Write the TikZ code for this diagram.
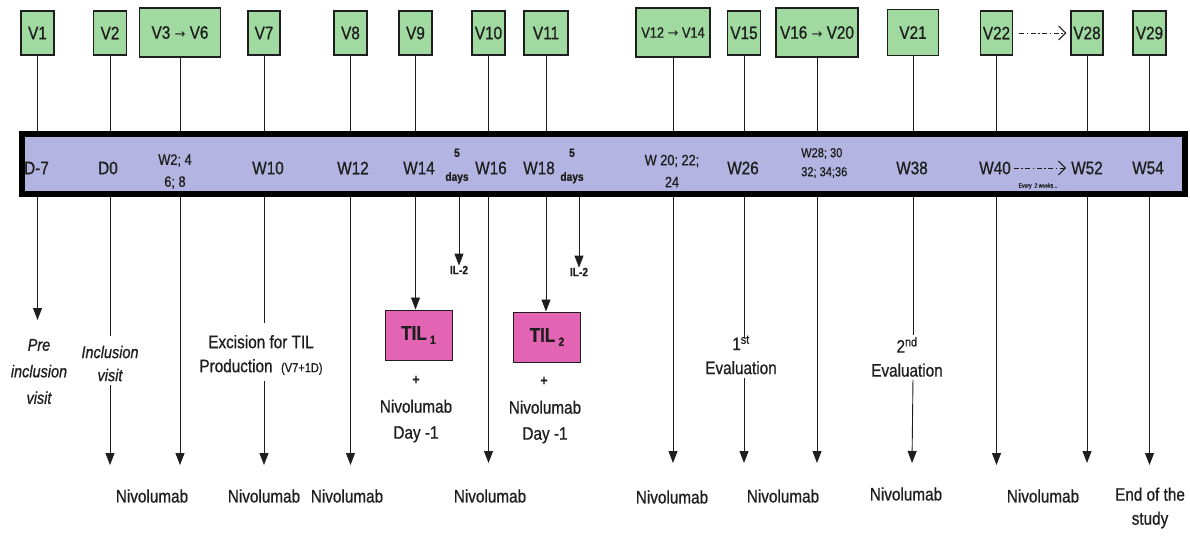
\documentclass[tikz,border=0pt]{standalone}
\usepackage{fontspec}
\setmainfont[FakeStretch=0.85,FakeBold=0.8]{Liberation Sans}
\newfontfamily\arrfont{DejaVu Sans}
\usetikzlibrary{arrows.meta}
\definecolor{vgreen}{RGB}{160,218,160}
\definecolor{tilpink}{RGB}{228,100,180}
\definecolor{barlav}{RGB}{180,180,226}
\definecolor{ink}{RGB}{30,30,30}
\newcommand{\rarr}{{\arrfont\fontsize{13}{13}\selectfont →}}
\begin{document}
\begin{tikzpicture}[x=1pt,y=-1pt,
  vbox/.style={draw=ink,line width=1.1pt,fill=vgreen,inner sep=0pt,minimum height=44pt,font=\fontsize{18}{20}\selectfont,text=ink},
  wbox/.style={vbox,minimum height=49pt},
  tilbox/.style={draw=ink,line width=1pt,fill=tilpink,inner sep=0pt,minimum width=67pt,minimum height=50pt,font=\fontsize{20}{22}\selectfont\bfseries,text=ink},
  bar/.style={draw=black,line width=6pt,fill=barlav,inner sep=0pt,minimum width=1163pt,minimum height=60pt},
  lbl/.style={inner sep=0pt,align=center,font=\fontsize{18}{24}\selectfont,text=ink},
  small/.style={lbl,font=\fontsize{15}{22}\selectfont},
  tiny/.style={lbl,font=\fontsize{12}{24}\selectfont\bfseries},
  conn/.style={draw=ink,line width=0.9pt},
  arr/.style={conn,-{Triangle[length=12pt,width=9pt]}},
  dasharr/.style={draw=ink,line width=0.9pt,dash pattern=on 5pt off 2.5pt on 1.5pt off 2.5pt,-{Straight Barb[length=7pt,width=14pt,line width=1.1pt]}}
]
\useasboundingbox (0,0) rectangle (1190,535);

% top visit boxes
\node[vbox,minimum width=33pt] (v1) at (37.5,33) {V1};
\node[vbox,minimum width=33pt] (v2) at (110,33) {V2};
\node[wbox,minimum width=81pt] (v3) at (180,32.5) {V3 \rarr{} V6};
\node[vbox,minimum width=32pt] (v7) at (264,33) {V7};
\node[vbox,minimum width=33pt] (v8) at (350.5,33) {V8};
\node[vbox,minimum width=33pt] (v9) at (415.5,33) {V9};
\node[vbox,minimum width=33pt] (v10) at (488.5,33) {V10};
\node[vbox,minimum width=44pt] (v11) at (546,33) {V11};
\node[wbox,minimum width=74pt,font=\fontsize{15}{18}\selectfont] (v12) at (673,32.5) {V12 \rarr{} V14};
\node[vbox,minimum width=33pt] (v15) at (744,33) {V15};
\node[wbox,minimum width=82pt] (v16) at (817,32.5) {V16 \rarr{} V20};
\node[vbox,minimum width=51pt,minimum height=46pt] (v21) at (913,32.5) {V21};
\node[vbox,minimum width=32pt] (v22) at (996.5,33) {V22};
\node[vbox,minimum width=32pt] (v28) at (1087,33) {V28};
\node[vbox,minimum width=33pt] (v29) at (1149.5,33) {V29};
\draw[dasharr,shorten <=6pt,shorten >=4pt] (v22.east) -- (v28.west);

% timeline bar
\node[bar] (bar) at (603.5,164) {};

% connectors from boxes to bar
\foreach \v in {v1,v2,v3,v7,v8,v9,v10,v11,v12,v15,v16,v21,v22,v28,v29}
  \draw[conn] (\v.south) -- (\v.south |- bar.north);

% labels inside the bar
\node[lbl,anchor=west] (d7) at (24,168) {D-7};
\node[lbl] (d0) at (108,168) {D0};
\node[small] (w2) at (175,171.5) {W2; 4\\6; 8};
\node[lbl] (w10) at (268,168) {W10};
\node[lbl] (w12) at (353,168) {W12};
\node[lbl] (w14) at (419,168) {W14};
\node[tiny] (days1) at (457,166) {5\\days};
\node[lbl] (w16) at (491,168) {W16};
\node[lbl] (w18) at (539,168) {W18};
\node[tiny] (days2) at (572,166) {5\\days};
\node[small] (w20) at (672,171) {W 20; 22;\\24};
\node[lbl] (w26) at (743,168) {W26};
\node[lbl,anchor=west,align=left,font=\fontsize{13}{19}\selectfont] (w28) at (801,163) {W28; 30\\32; 34;36};
\node[lbl] (w38) at (912,168) {W38};
\node[lbl] (w40) at (995,168) {W40};
\node[lbl] (w52) at (1087,168) {W52};
\node[lbl] (w54) at (1148,168) {W54};
\draw[dasharr,shorten <=3pt,shorten >=5pt] (w40.east) -- (w52.west);
\node[lbl,font=\fontsize{6}{7}\selectfont] (every) at (1038,186) {Every\ \ 2 weeks...};

% lower labels
\node[lbl,font=\fontsize{17}{26.5}\selectfont\itshape] (pre) at (39,371.5) {Pre\\inclusion\\visit};
\node[lbl,font=\fontsize{17}{23}\selectfont\itshape] (incl) at (110,363.5) {Inclusion\\visit};
\node[lbl] (exc) at (261,355) {Excision for TIL\\Production\ \ {\fontsize{13}{13}\selectfont(V7+1D)}};
\node[tilbox] (til1) at (418.5,335) {TIL\,{\fontsize{12}{12}\selectfont\raisebox{-4pt}{1}}};
\node[tilbox] (til2) at (547,337) {TIL\,{\fontsize{12}{12}\selectfont\raisebox{-4pt}{2}}};
\node[lbl,font=\fontsize{14}{14}\selectfont\bfseries] (plus1) at (416,380) {+};
\node[lbl,font=\fontsize{18}{26}\selectfont] (niv9) at (416,421) {Nivolumab\\Day -1};
\node[lbl,font=\fontsize{14}{14}\selectfont\bfseries] (plus2) at (544,381) {+};
\node[lbl,font=\fontsize{18}{26}\selectfont] (niv11) at (545,422) {Nivolumab\\Day -1};
\node[tiny] (il1) at (459,270) {IL-2};
\node[tiny] (il2) at (579,272) {IL-2};
\node[lbl] (ev1) at (741,355) {1\textsuperscript{st}\\Evaluation};
\node[lbl] (ev2) at (907,357) {2\textsuperscript{nd}\\Evaluation};

\node[lbl] (n1) at (152,496) {Nivolumab};
\node[lbl] (n2) at (264,496) {Nivolumab};
\node[lbl] (n3) at (347,496) {Nivolumab};
\node[lbl] (n4) at (490,496) {Nivolumab};
\node[lbl] (n5) at (672,497) {Nivolumab};
\node[lbl] (n6) at (783,496) {Nivolumab};
\node[lbl] (n7) at (906,494) {Nivolumab};
\node[lbl] (n8) at (1043,496) {Nivolumab};
\node[lbl] (end) at (1150,508) {End of the\\study};

% arrow end points
\coordinate (e1) at (37.5,320);
\coordinate (e2) at (110,465);
\coordinate (e3) at (180,465);
\coordinate (e7) at (264,465);
\coordinate (e8) at (350.5,465);
\coordinate (e10) at (488.5,463);
\coordinate (e12) at (673,463);
\coordinate (e15) at (744,463);
\coordinate (e16) at (817,463);
\coordinate (e21) at (912,463);
\coordinate (e22) at (996.5,465);
\coordinate (e28) at (1087,463);
\coordinate (e29) at (1149.5,465);

% downward connectors
\draw[arr] (bar.south -| v1) -- (e1);
\draw[conn,shorten >=10pt] (bar.south -| v2) -- (incl.north -| v2) ;
\draw[arr,shorten <=4pt] (incl.south -| v2) -- (e2);
\draw[arr] (bar.south -| v3) -- (e3);
\draw[conn,shorten >=12pt] (bar.south -| v7) -- (exc.north -| v7);
\draw[arr,shorten <=6pt] (exc.south -| v7) -- (e7);
\draw[arr] (bar.south -| v8) -- (e8);
\draw[arr] (bar.south -| v9) -- (til1.north -| v9);
\draw[arr] (bar.south -| il1) -- (il1.north);
\draw[arr] (bar.south -| v10) -- (e10);
\draw[arr] (bar.south -| v11) -- (til2.north -| v11);
\draw[arr] (bar.south -| il2) -- (il2.north);
\draw[arr] (bar.south -| v12) -- (e12);
\draw[conn,shorten >=-2pt] (bar.south -| v15) -- (ev1.north -| v15);
\draw[arr,shorten <=3pt] (ev1.south -| v15) -- (e15);
\draw[arr] (bar.south -| v16) -- (e16);
\draw[conn,shorten >=2pt] (bar.south -| v21) -- (ev2.north -| v21);
\draw[arr,shorten <=3pt] (ev2.south -| v21) -- (e21);
\draw[arr] (bar.south -| v22) -- (e22);
\draw[arr] (bar.south -| v28) -- (e28);
\draw[arr] (bar.south -| v29) -- (e29);
\end{tikzpicture}
\end{document}
